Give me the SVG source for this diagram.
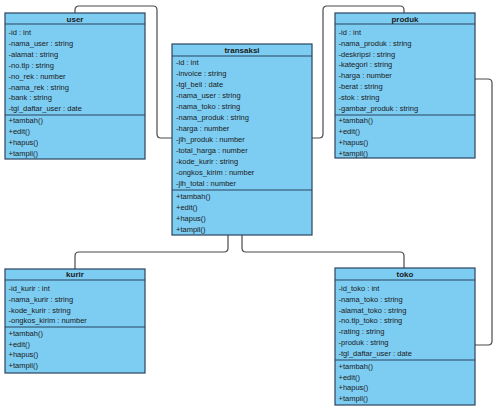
<svg xmlns="http://www.w3.org/2000/svg" width="497" height="412" viewBox="0 0 497 412">
<style>
.box{fill:#7dcdf3;stroke:#2b4460;stroke-width:1.2}
.ln{stroke:#2b4460;stroke-width:1.2}
.t{font-family:"Liberation Sans",Arial,sans-serif;font-size:7.5px;fill:#1a1a1a}
.h{font-family:"Liberation Sans",Arial,sans-serif;font-size:8px;font-weight:bold;fill:#1a1a1a;text-anchor:middle}
.c{fill:none;stroke:#4a4a4a;stroke-width:1.2}
</style>
<rect width="497" height="412" fill="#ffffff"/>
<g id="connectors">
<path class="c" d="M75,13 V10 Q75,6 79,6 H153 Q157,6 157,10 V134 Q157,138 161,138 H172"/>
<path class="c" d="M312,138 H319 Q323,138 323,134 V10 Q323,6 327,6 H400 Q404,6 404,10 V13"/>
<path class="c" d="M475,79 H488 Q492,79 492,83 V341 Q492,345 488,345 H475"/>
<path class="c" d="M242,235 V248 Q242,252 246,252 H400 Q404,252 404,256 V268"/>
<path class="c" d="M228,235 V248 Q228,252 224,252 H79 Q75,252 75,256 V269"/>
</g>
<g id="user">
<rect class="box" x="5" y="13" width="140" height="146"/>
<line class="ln" x1="5" y1="24" x2="145" y2="24"/>
<line class="ln" x1="5" y1="115" x2="145" y2="115"/>
<text class="h" x="75" y="21.8">user</text>
<text class="t" x="8.5" y="35">-id : int</text>
<text class="t" x="8.5" y="45.9">-nama_user : string</text>
<text class="t" x="8.5" y="56.8">-alamat : string</text>
<text class="t" x="8.5" y="67.7">-no.tlp : string</text>
<text class="t" x="8.5" y="78.6">-no_rek : number</text>
<text class="t" x="8.5" y="89.5">-nama_rek : string</text>
<text class="t" x="8.5" y="100.4">-bank : string</text>
<text class="t" x="8.5" y="111.3">-tgl_daftar_user : date</text>
<text class="t" x="8.5" y="123.4">+tambah()</text>
<text class="t" x="8.5" y="134.4">+edit()</text>
<text class="t" x="8.5" y="145.4">+hapus()</text>
<text class="t" x="8.5" y="156.4">+tampil()</text>
</g>
<g id="transaksi">
<rect class="box" x="172" y="44" width="140" height="191"/>
<line class="ln" x1="172" y1="56" x2="312" y2="56"/>
<line class="ln" x1="172" y1="190" x2="312" y2="190"/>
<text class="h" x="242" y="53">transaksi</text>
<text class="t" x="176" y="65">-id : int</text>
<text class="t" x="176" y="76">-invoice : string</text>
<text class="t" x="176" y="87">-tgl_beli : date</text>
<text class="t" x="176" y="98">-nama_user : string</text>
<text class="t" x="176" y="109">-nama_toko : string</text>
<text class="t" x="176" y="120">-nama_produk : string</text>
<text class="t" x="176" y="131">-harga : number</text>
<text class="t" x="176" y="142">-jlh_produk : number</text>
<text class="t" x="176" y="153">-total_harga : number</text>
<text class="t" x="176" y="164">-kode_kurir : string</text>
<text class="t" x="176" y="175">-ongkos_kirim : number</text>
<text class="t" x="176" y="186">-jlh_total : number</text>
<text class="t" x="176" y="199.4">+tambah()</text>
<text class="t" x="176" y="210.3">+edit()</text>
<text class="t" x="176" y="221.2">+hapus()</text>
<text class="t" x="176" y="232.1">+tampil()</text>
</g>
<g id="produk">
<rect class="box" x="335" y="13" width="140" height="145"/>
<line class="ln" x1="335" y1="24" x2="475" y2="24"/>
<line class="ln" x1="335" y1="115" x2="475" y2="115"/>
<text class="h" x="405" y="21.8">produk</text>
<text class="t" x="338.5" y="34.7">-id : int</text>
<text class="t" x="338.5" y="45.6">-nama_produk : string</text>
<text class="t" x="338.5" y="56.5">-deskripsi : string</text>
<text class="t" x="338.5" y="67.4">-kategori : string</text>
<text class="t" x="338.5" y="78.3">-harga : number</text>
<text class="t" x="338.5" y="89.2">-berat : string</text>
<text class="t" x="338.5" y="100.1">-stok : string</text>
<text class="t" x="338.5" y="111">-gambar_produk : string</text>
<text class="t" x="338.5" y="123.4">+tambah()</text>
<text class="t" x="338.5" y="134.4">+edit()</text>
<text class="t" x="338.5" y="145.4">+hapus()</text>
<text class="t" x="338.5" y="156.4">+tampil()</text>
</g>
<g id="kurir">
<rect class="box" x="5" y="269" width="140" height="104"/>
<line class="ln" x1="5" y1="280" x2="145" y2="280"/>
<line class="ln" x1="5" y1="327" x2="145" y2="327"/>
<text class="h" x="75" y="277.3">kurir</text>
<text class="t" x="8.5" y="291">-id_kurir : int</text>
<text class="t" x="8.5" y="301.8">-nama_kurir : string</text>
<text class="t" x="8.5" y="312.6">-kode_kurir : string</text>
<text class="t" x="8.5" y="323.4">-ongkos_kirim : number</text>
<text class="t" x="8.5" y="335.7">+tambah()</text>
<text class="t" x="8.5" y="346.5">+edit()</text>
<text class="t" x="8.5" y="357.3">+hapus()</text>
<text class="t" x="8.5" y="368.1">+tampil()</text>
</g>
<g id="toko">
<rect class="box" x="335" y="268" width="140" height="137"/>
<line class="ln" x1="335" y1="280" x2="475" y2="280"/>
<line class="ln" x1="335" y1="360" x2="475" y2="360"/>
<text class="h" x="405" y="277">toko</text>
<text class="t" x="338.5" y="291">-id_toko : int</text>
<text class="t" x="338.5" y="301.8">-nama_toko : string</text>
<text class="t" x="338.5" y="312.6">-alamat_toko : string</text>
<text class="t" x="338.5" y="323.4">-no.tlp_toko : string</text>
<text class="t" x="338.5" y="334.2">-rating : string</text>
<text class="t" x="338.5" y="345">-produk : string</text>
<text class="t" x="338.5" y="355.8">-tgl_daftar_user : date</text>
<text class="t" x="338.5" y="368.7">+tambah()</text>
<text class="t" x="338.5" y="379.5">+edit()</text>
<text class="t" x="338.5" y="390.3">+hapus()</text>
<text class="t" x="338.5" y="401.1">+tampil()</text>
</g>
</svg>
